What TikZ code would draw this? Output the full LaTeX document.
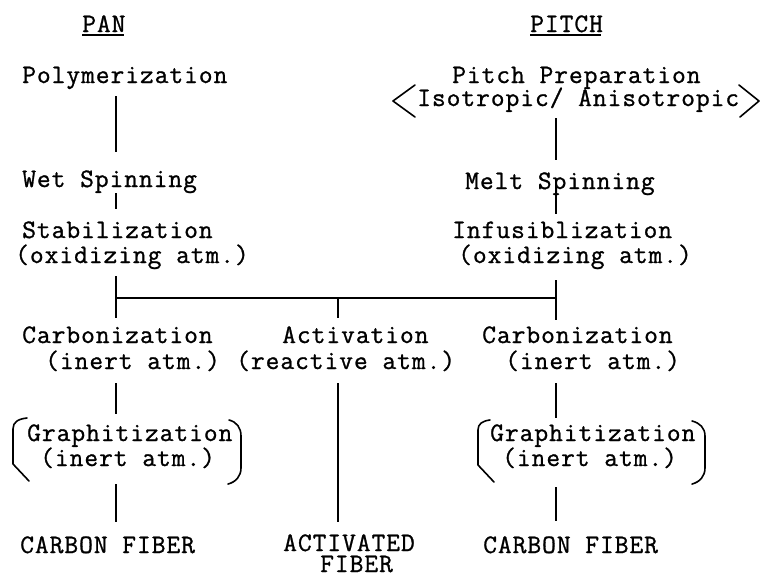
\documentclass[tikz,border=0pt]{standalone}
\usepackage{fontspec}
\newfontfamily\tw[FakeBold=1.0,LetterSpace=3.7]{Latin Modern Mono}
\usetikzlibrary{calc}
\begin{document}
\begin{tikzpicture}[x=0.75pt,y=-0.75pt,
  txt/.style={anchor=base west,inner sep=0pt,font=\tw\fontsize{20}{24}\selectfont,text height=11pt,text depth=3pt},
  lastline/.style={text depth=0pt,text height=9pt},
  conn/.style={line width=1.3pt,black},
  brk/.style={line width=1.2pt,black,line join=round,line cap=round}]
\useasboundingbox (0,0) rectangle (761,576);
\coordinate (cL) at (116,0);
\coordinate (cM) at (338,0);
\coordinate (cR) at (556,0);
% headings
\node[txt] (pan) at (82,32) {PAN};
\node[txt] (pitch) at (530,32) {PITCH};
\draw[line width=0.9pt] ($(pan.base west)+(0,3)$) -- ($(pan.base east)+(-2,3)$);
\draw[line width=0.9pt] ($(pitch.base west)+(0,3)$) -- ($(pitch.base east)+(-2,3)$);
% PAN column
\node[txt] (poly) at (22,83) {Polymerization};
\node[txt] (wet) at (22,187) {Wet Spinning};
\node[txt] (stab) at (22,238) {Stabilization};
\node[txt] (oxL) at (15,263) {(oxidizing atm.)};
\node[txt] (carbL) at (22,343) {Carbonization};
\node[txt] (inL) at (45,369) {(inert atm.)};
\node[txt] (graL) at (27,441) {Graphitization};
\node[txt] (in2L) at (40,466) {(inert atm.)};
\node[txt] (cfL) at (20,553) {CARBON FIBER};
% middle
\node[txt,lastline] (act) at (282,343) {Activation};
\node[txt] (react) at (236,369) {(reactive atm.)};
\node[txt,lastline] (acf) at (283,551) {ACTIVATED};
\node[txt,lastline] (fib) at (320,572) {FIBER};
% PITCH column
\node[txt,text depth=0pt] (prep) at (452,83) {Pitch Preparation};
\node[txt] (iso) at (417,106) {Isotropic/ Anisotropic};
\node[txt] (melt) at (465,189) {Melt Spinning};
\node[txt] (infu) at (452,238) {Infusiblization};
\node[txt] (oxR) at (458,263) {(oxidizing atm.)};
\node[txt] (carbR) at (482,343) {Carbonization};
\node[txt] (inR) at (505,369) {(inert atm.)};
\node[txt] (graR) at (490,441) {Graphitization};
\node[txt] (in2R) at (502,466) {(inert atm.)};
\node[txt] (cfR) at (483,553) {CARBON FIBER};
% junction points
\coordinate (jL) at ($(oxL.base -| cL)+(0,35)$);
\coordinate (jR) at ($(oxR.base -| cR)+(0,35)$);
% left connectors
\draw[conn] ($(poly.base -| cL)+(0,13)$) -- ($(wet.base -| cL)+(0,-35)$);
\draw[conn] ($(wet.base -| cL)+(0,6)$) -- ($(stab.base -| cL)+(0,-29)$);
\draw[conn] ($(oxL.base -| cL)+(0,13)$) -- ($(carbL.base -| cL)+(0,-25)$);
\draw[conn] ($(inL.base -| cL)+(0,14)$) -- ($(graL.base -| cL)+(0,-27)$);
\draw[conn] ($(in2L.base -| cL)+(0,18)$) -- ($(cfL.base -| cL)+(0,-31)$);
% cross bar and middle
\draw[conn] (jL) -- (jR);
\draw[conn] (jL -| cM) -- ($(act.base -| cM)+(0,-25)$);
\draw[conn] ($(react.base -| cM)+(0,14)$) -- ($(acf.base -| cM)+(0,-29)$);
% right connectors
\draw[conn] ($(iso.base -| cR)+(0,12)$) -- ($(melt.base -| cR)+(0,-29)$);
\draw[conn] ($(melt.base -| cR)+(0,4)$) -- ($(infu.base -| cR)+(0,-24)$);
\draw[conn] ($(oxR.base -| cR)+(0,17)$) -- ($(carbR.base -| cR)+(0,-23)$);
\draw[conn] ($(inR.base -| cR)+(0,14)$) -- ($(graR.base -| cR)+(0,-23)$);
\draw[conn] ($(in2R.base -| cR)+(0,21)$) -- ($(cfR.base -| cR)+(0,-32)$);
% angle brackets around Isotropic/ Anisotropic
\draw[brk] (415,85) -- (393,101) -- (415,117);
\draw[brk] (739,85) -- (759,101) -- (740,117);
% brackets around Graphitization (left)
\draw[brk] (27,418) .. controls (18,419) and (13,422) .. (13,429) -- (13,464) -- (29,481);
\draw[brk] (229,420) .. controls (237,422) and (241,428) .. (241,436) -- (241,468) .. controls (241,476) and (236,482) .. (228,484);
% brackets around Graphitization (right)
\draw[brk] (490,420) .. controls (482,421) and (478,424) .. (478,430) -- (478,465) -- (494,482);
\draw[brk] (692,421) .. controls (700,423) and (705,428) .. (705,436) -- (705,468) .. controls (705,476) and (700,482) .. (692,484);
\end{tikzpicture}
\end{document}
